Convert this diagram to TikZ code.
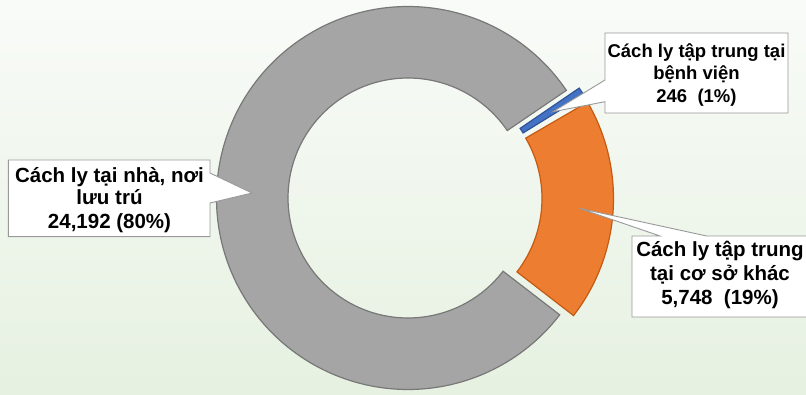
\documentclass[tikz,border=0pt]{standalone}
\usepackage{fontspec}
\setmainfont{Liberation Sans}
\usetikzlibrary{calc}
\definecolor{bgtop}{HTML}{F9FBF8}
\definecolor{bgbot}{HTML}{E6F1E1}
\definecolor{graypie}{HTML}{A5A5A5}
\definecolor{grayedge}{HTML}{787878}
\definecolor{orangepie}{HTML}{ED7D31}
\definecolor{orangeedge}{HTML}{C55A11}
\definecolor{bluepie}{HTML}{4472C4}
\definecolor{blueedge}{HTML}{2F5597}
\definecolor{calloutgray}{HTML}{999999}
\begin{document}
\begin{tikzpicture}[x=1pt,y=1pt,
  slice/.style={line width=1.2pt, line join=miter},
  callout/.style={fill=white, draw=calloutgray, line width=0.9pt},
  lbl/.style={anchor=base, inner sep=0pt, text=black, font=\bfseries\fontsize{20.5}{23}\selectfont},
  lblsmall/.style={lbl, font=\bfseries\fontsize{18.5}{23}\selectfont}]
\useasboundingbox (0,0) rectangle (806,394);
\clip (0,0) rectangle (806,394);
\shade[top color=bgtop, bottom color=bgbot] (0,0) rectangle (806,394);
% centres of the slices
\coordinate (c0) at (408,196);
\coordinate (c1) at (421,198);
\coordinate (c2) at (422,195.5);
% gray slice
\draw[slice, fill=graypie, draw=grayedge]
  ($(c0)+(34.2:191.5)$) arc[start angle=34.2, end angle=322.4, radius=191.5]
  -- ($(c0)+(322.4:120)$) arc[start angle=322.4, end angle=34.2, radius=120] -- cycle;
% blue slice
\draw[slice, fill=bluepie, draw=blueedge]
  ($(c1)+(31.7:191.5)$) arc[start angle=31.7, end angle=34.3, radius=191.5]
  -- ($(c1)+(34.3:120)$) arc[start angle=34.3, end angle=31.7, radius=120] -- cycle;
% orange slice
\draw[slice, fill=orangepie, draw=orangeedge]
  ($(c2)+(-37.7:191.5)$) arc[start angle=-37.7, end angle=30.2, radius=191.5]
  -- ($(c2)+(30.2:120)$) arc[start angle=30.2, end angle=-37.7, radius=120] -- cycle;
% callouts
\coordinate (tipTR) at (553,282.3);
\coordinate (tipL) at (252,201);
\coordinate (tipBR) at (579.3,185.7);
\draw[callout] (605,361) -- (788,361) -- (788,281) -- (605,281) -- (605,292.3) -- (tipTR) -- (605,314) -- cycle;
\draw[callout] (8.3,234) -- (210,234) -- (210,221) -- (tipL) -- (210,191) -- (210,157.3) -- (8.3,157.3) -- cycle;
\draw[callout] (632,158) -- (660,158) -- (tipBR) -- (706.7,158) -- (830,158) -- (830,77) -- (632,77) -- cycle;
% texts
\node[lblsmall] (tr1) at (696.5,336.7) {Cách ly tập trung tại};
\node[lblsmall] (tr2) at (696.5,314.7) {bệnh viện};
\node[lblsmall] (tr3) at (696.5,291.5) {246\ \ (1\%)};
\node[lbl] (l1) at (109.5,211.7) {Cách ly tại nhà, nơi};
\node[lbl] (l2) at (109.5,189) {lưu trú};
\node[lbl] (l3) at (109.5,165) {24,192 (80\%)};
\node[lbl] (b1) at (720,138) {Cách ly tập trung};
\node[lbl] (b2) at (720,113.5) {tại cơ sở khác};
\node[lbl] (b3) at (720,89.5) {5,748\ \ (19\%)};
\end{tikzpicture}
\end{document}
